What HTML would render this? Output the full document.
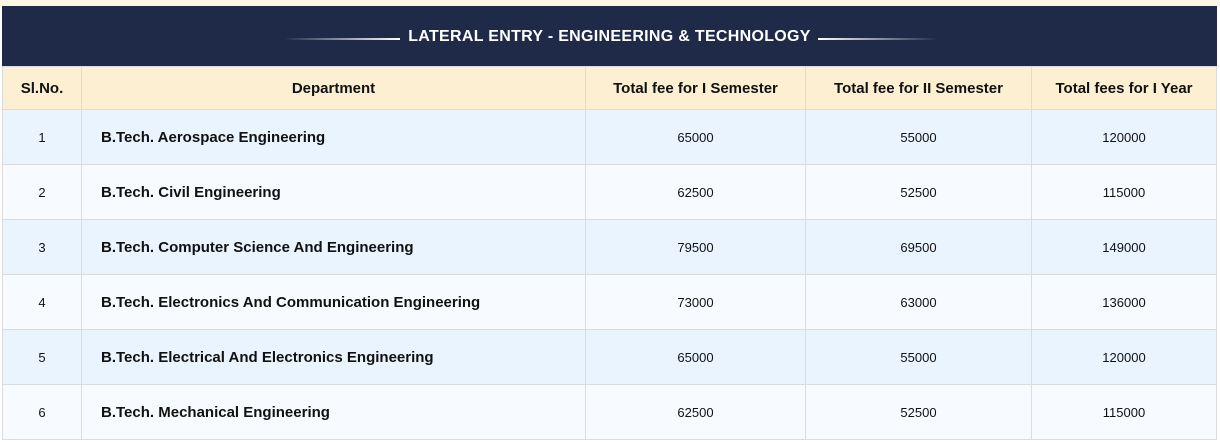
<!DOCTYPE html>
<html><head><style>
body{margin:0;width:1220px;height:443px;background:#fff;font-family:"Liberation Sans",sans-serif;overflow:hidden;position:relative}
.top{position:absolute;left:0;top:0;width:1220px;height:7px;background:#fdf6e4}
.hd{position:absolute;left:2px;top:6px;width:1215px;height:60px;background:#1f2a48;color:#fff;font-weight:bold;font-size:16px;letter-spacing:0.3px;text-align:center;line-height:62px}
.hd span{position:relative}
.ln{position:absolute;top:32px;height:2px}
table{position:absolute;left:2px;top:66px;width:1215px;border-collapse:collapse;font-size:13px;color:#111}
td,th{border:1px solid #dcdcdc;text-align:center;padding:0}
th{height:42px;background:#fdf0d2;font-size:15px;font-weight:bold;color:#111}
td{height:54px}
tr:nth-child(even) td{background:#eaf4fe}
tr:nth-child(odd) td{background:#f7fbff}
td.d{text-align:left;padding-left:19px;font-weight:bold;font-size:15px}
</style></head><body>
<div class="top"></div>
<div class="hd"><span>LATERAL ENTRY - ENGINEERING &amp; TECHNOLOGY</span>
<div class="ln" style="left:282px;width:116px;background:linear-gradient(90deg,rgba(255,255,255,0),#fff)"></div>
<div class="ln" style="left:816px;width:120px;background:linear-gradient(90deg,#fff,rgba(255,255,255,0))"></div></div>
<table>
<tr><th style="width:78px">Sl.No.</th><th style="width:503px">Department</th><th style="width:219px">Total fee for I Semester</th><th style="width:225px">Total fee for II Semester</th><th>Total fees for I Year</th></tr>
<tr><td>1</td><td class="d">B.Tech. Aerospace Engineering</td><td>65000</td><td>55000</td><td>120000</td></tr>
<tr><td>2</td><td class="d">B.Tech. Civil Engineering</td><td>62500</td><td>52500</td><td>115000</td></tr>
<tr><td>3</td><td class="d">B.Tech. Computer Science And Engineering</td><td>79500</td><td>69500</td><td>149000</td></tr>
<tr><td>4</td><td class="d">B.Tech. Electronics And Communication Engineering</td><td>73000</td><td>63000</td><td>136000</td></tr>
<tr><td>5</td><td class="d">B.Tech. Electrical And Electronics Engineering</td><td>65000</td><td>55000</td><td>120000</td></tr>
<tr><td>6</td><td class="d">B.Tech. Mechanical Engineering</td><td>62500</td><td>52500</td><td>115000</td></tr>
</table>
</body></html>
